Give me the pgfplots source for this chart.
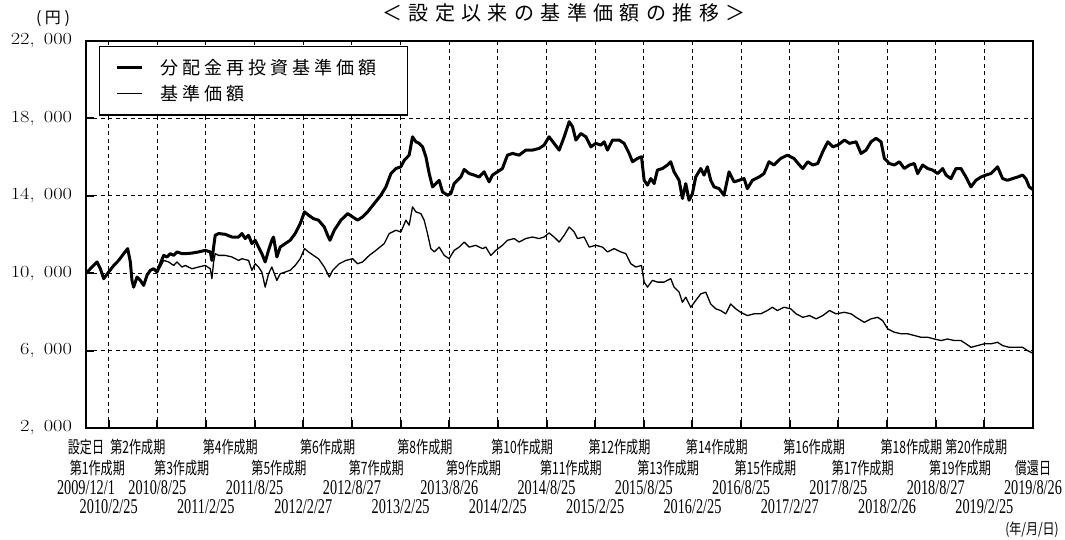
\documentclass[border=0pt]{standalone}
\usepackage{pgfplots}
\pgfplotsset{compat=1.18}
\usepackage{graphicx}
\usepackage{fontspec}
\newfontfamily\cjk{Noto Sans CJK JP}
\newfontfamily\cjkt[LetterSpace=32]{Noto Sans CJK JP}
\newfontfamily\cjkl[LetterSpace=22]{Noto Sans CJK JP}
\newfontfamily\dtf{Liberation Serif}
\newcommand\lab[2]{\makebox[0pt]{\raisebox{-#1}{#2}}}
\newcommand\dt[1]{\scalebox{0.68}[1]{\dtf\fontsize{21bp}{21bp}\selectfont #1}}
\newcommand\pj[1]{\scalebox{0.71}[1]{\cjk\fontsize{17bp}{17bp}\selectfont #1}}
\newcommand\rA[1]{\lab{25bp}{\pj{#1}}}
\newcommand\rB[1]{\lab{46bp}{\pj{#1}}}
\newcommand\rC[1]{\lab{66bp}{\dt{#1}}}
\newcommand\rD[1]{\lab{85bp}{\dt{#1}}}
\newcommand\yl[1]{\scalebox{1.2}[1]{\fontsize{17bp}{17bp}\selectfont #1}}
\begin{document}
\begin{tikzpicture}
\useasboundingbox (-86bp,-112bp) rectangle (979bp,428bp);
\begin{axis}[
  scale only axis, width=947bp, height=387bp,
  xmin=0, xmax=116.8, ymin=2000, ymax=22000,
  scaled y ticks=false, scaled x ticks=false,
  axis line style={line width=2.5bp},
  xtick={0,2.8,8.8,14.77,20.8,26.8,32.8,38.8,44.8,50.8,56.8,62.8,68.8,74.8,80.8,86.8,92.8,98.8,104.8,110.8,116.8},
  xticklabels={\rA{設定日}\rC{2009/12/1},\rD{2010/2/25},\rC{2010/8/25},\rD{2011/2/25},\rC{2011/8/25},\rD{2012/2/27},\rC{2012/8/27},\rD{2013/2/25},\rC{2013/8/26},\rD{2014/2/25},\rC{2014/8/25},\rD{2015/2/25},\rC{2015/8/25},\rD{2016/2/25},\rC{2016/8/25},\rD{2017/2/27},\rC{2017/8/25},\rD{2018/2/26},\rC{2018/8/27},\rD{2019/2/25},\rB{償還日}\rC{2019/8/26}},
  extra x ticks={1.4,6.4,11.8,17.8,23.8,29.8,35.8,41.8,47.8,53.8,59.8,65.8,71.8,77.8,83.8,89.8,95.8,101.8,107.8,109.8},
  extra x tick labels={\rB{第1作成期},\rA{第2作成期},\rB{第3作成期},\rA{第4作成期},\rB{第5作成期},\rA{第6作成期},\rB{第7作成期},\rA{第8作成期},\rB{第9作成期},\rA{第10作成期},\rB{第11作成期},\rA{第12作成期},\rB{第13作成期},\rA{第14作成期},\rB{第15作成期},\rA{第16作成期},\rB{第17作成期},\rA{第18作成期},\rB{第19作成期},\rA{第20作成期}},
  extra x tick style={grid=none, major tick length=0pt},
  xticklabel style={anchor=base, inner sep=0pt},
  ytick={2000,6000,10000,14000,18000,22000},
  yticklabels={{\yl{2,\hspace{.45em}000}},{\yl{6,\hspace{.45em}000}},{\yl{10,\hspace{.45em}000}},{\yl{14,\hspace{.45em}000}},{\yl{18,\hspace{.45em}000}},{\yl{22,\hspace{.45em}000}}},
  yticklabel style={xshift=-10.5bp},
  tick align=inside, xtick pos=left, ytick pos=left,
  major tick length=8bp,
  every tick/.style={black, line width=2bp},
  grid=major,
  major grid style={black, line width=1.1bp, dash pattern=on 4bp off 3.5bp},
  legend style={at={(axis description cs:0.0137,0.987)}, anchor=north west, draw=black, line width=1.2bp, fill=white,
    font=\cjkl\fontsize{18bp}{21bp}\selectfont, inner xsep=16bp, inner ysep=13bp, row sep=9bp,
    nodes={inner sep=0pt},
    /tikz/every odd column/.append style={column sep=17bp},
    /tikz/every even column/.append style={text width=231bp, align=left}},
  legend cell align=left,
  legend image code/.code={\draw[#1] (0bp,0bp) -- (25bp,0bp);},
]
\addplot[black, line width=3bp, line join=round] coordinates {
(0,10000)(0.75,10320)(1.36,10580)(1.77,10230)(2.18,9715)(2.8,10060)(3.42,10400)(4.03,10660)(4.65,11010)(5.14,11270)(5.47,10580)(5.67,9630)(5.88,9280)(6.29,9800)(6.70,9630)(7.11,9370)(7.52,9890)(7.93,10150)(8.34,10230)(8.76,10060)(9.17,10490)(9.58,10920)(9.99,10840)(10.40,11010)(10.81,10920)(11.22,11100)(11.84,11010)(12.25,11010)(13.07,11040)(13.89,11100)(14.71,11180)(15.33,11100)(15.53,10660)(15.74,11350)(15.94,11960)(16.35,12050)(17.17,12010)(17.99,11870)(18.82,11870)(19.23,12050)(19.64,11790)(20.05,11960)(20.46,11530)(20.87,11700)(21.28,11350)(21.69,11010)(22.10,10580)(22.51,11180)(22.92,11700)(23.13,11870)(23.54,10840)(23.95,11350)(24.57,11530)(25.18,11700)(25.80,12050)(26.42,12560)(26.95,13170)(27.44,13000)(28.06,12820)(28.67,12740)(29.39,12390)(29.80,11960)(30.09,11700)(30.62,12220)(31.44,12740)(32.27,13080)(32.88,12910)(33.50,12740)(34.11,12910)(34.73,13170)(35.55,13600)(36.37,14030)(36.99,14460)(37.61,15150)(38.22,15410)(38.84,15500)(39.25,15840)(39.86,16100)(40.27,17050)(40.69,16790)(41.10,16710)(41.51,16530)(41.92,16020)(42.33,15150)(42.74,14460)(43.15,14630)(43.56,14800)(43.97,14200)(44.59,14030)(45.00,14110)(45.41,14630)(45.82,14800)(46.23,14970)(46.64,15360)(47.26,15150)(47.87,15070)(48.49,14970)(49.10,15240)(49.72,14720)(50.13,15070)(50.75,15240)(51.36,15410)(51.98,16100)(52.60,16190)(53.42,16100)(54.24,16360)(55.06,16360)(55.88,16450)(56.50,16620)(57.11,17050)(57.73,16710)(58.36,16360)(58.98,17050)(59.60,17830)(60.01,17570)(60.42,16880)(61.03,17220)(61.65,17050)(62.27,16530)(62.88,16710)(63.50,16620)(63.91,16790)(64.32,16360)(64.94,16880)(65.76,16880)(66.37,16710)(66.99,16190)(67.40,15760)(68.02,15930)(68.51,16020)(68.84,14800)(69.25,14550)(69.66,14890)(70.07,14630)(70.48,15330)(71.10,15410)(71.71,15590)(72.12,15760)(72.53,15240)(73.15,14800)(73.56,13860)(73.97,14630)(74.38,13770)(74.79,14110)(75.20,14970)(75.82,15410)(76.23,15070)(76.64,15500)(77.05,14800)(77.46,14460)(78.08,14370)(78.69,14030)(79.31,15240)(79.93,14720)(80.54,14800)(81.16,14890)(81.57,14370)(82.19,14800)(83.01,14970)(83.62,15150)(84.24,15760)(84.85,15590)(85.68,15930)(86.50,16100)(87.32,15930)(87.99,15590)(88.41,15410)(89.02,15760)(89.64,15590)(90.25,15670)(90.87,16280)(91.49,16790)(92.10,16530)(92.72,16620)(93.54,16880)(94.16,16710)(94.98,16790)(95.59,16190)(96.21,16360)(96.82,16790)(97.44,16970)(98.06,16790)(98.47,15930)(99.08,15670)(99.70,15590)(100.32,15760)(100.93,15410)(101.55,15590)(102.16,15670)(102.57,15150)(103.19,15590)(103.81,15410)(104.42,15330)(105.04,15150)(105.66,15410)(106.07,15070)(106.68,14890)(107.30,15410)(107.91,15410)(108.53,14970)(109.15,14460)(109.76,14800)(110.38,14970)(110.99,15070)(111.61,15150)(112.43,15500)(113.05,14890)(113.66,14800)(114.28,14890)(114.90,14970)(115.51,15070)(115.92,14890)(116.34,14460)(116.8,14320)
};
\addplot[black, line width=1.3bp, line join=round] coordinates {
(0,10000)(0.75,10320)(1.36,10580)(1.77,10230)(2.18,9715)(2.8,10060)(3.42,10400)(4.03,10660)(4.65,11010)(5.14,11270)(5.47,10580)(5.67,9630)(5.88,9280)(6.29,9800)(6.70,9630)(7.11,9370)(7.52,9890)(7.93,10150)(8.34,10230)(8.76,10060)(9.17,10320)(9.58,10660)(10.19,10580)(10.81,10400)(11.22,10580)(11.84,10320)(12.25,10400)(13.07,10230)(13.89,10320)(14.71,10400)(15.33,10230)(15.53,9720)(15.74,10580)(15.94,11010)(16.35,10920)(17.17,10920)(17.99,10840)(18.82,10660)(19.23,10750)(20.05,10660)(20.46,10150)(20.87,10490)(21.28,10320)(21.69,10060)(22.10,9280)(22.51,9970)(22.92,10320)(23.54,9630)(23.95,9970)(24.57,10060)(25.18,10150)(25.80,10400)(26.42,10750)(26.95,11270)(27.44,11100)(28.06,10920)(28.67,10750)(29.39,10320)(30.01,9800)(30.42,10150)(31.24,10490)(32.06,10660)(32.88,10750)(33.50,10490)(34.11,10580)(34.94,10920)(35.76,11180)(36.78,11530)(37.40,12050)(38.22,12220)(38.84,12130)(39.45,12740)(39.86,12480)(40.27,13430)(40.69,13170)(41.30,13080)(41.71,12740)(42.12,12050)(42.53,11270)(42.94,11100)(43.56,11350)(44.18,10920)(44.79,10750)(45.41,11180)(46.02,11350)(46.64,11610)(47.26,11350)(48.08,11440)(48.90,11270)(49.31,11350)(49.93,10920)(50.54,11180)(51.36,11440)(51.98,11700)(52.80,11790)(53.42,11610)(54.24,11790)(55.06,11870)(55.88,11790)(56.50,11870)(57.11,12080)(57.73,11870)(58.36,11610)(58.98,11960)(59.60,12390)(60.21,12130)(60.62,11790)(61.44,11870)(62.06,11350)(62.88,11440)(63.70,11350)(64.32,11100)(65.14,11270)(65.96,11100)(66.58,11010)(67.19,10490)(67.81,10320)(68.51,10400)(68.84,9540)(69.25,9280)(69.86,9630)(70.48,9540)(71.30,9540)(72.12,9720)(72.53,9280)(73.15,9020)(73.56,8500)(73.97,8760)(74.59,8240)(75.20,8590)(75.82,8930)(76.44,9020)(77.05,8410)(77.67,8160)(78.28,8070)(78.90,7900)(79.52,8410)(80.13,8160)(80.75,7980)(81.57,7810)(82.39,7900)(83.21,7900)(84.03,8070)(84.65,8240)(85.27,8070)(86.09,8240)(86.91,8160)(87.58,7900)(88.41,7720)(89.23,7810)(90.05,7640)(90.87,7810)(91.69,8070)(92.51,7900)(93.54,7980)(94.36,7900)(94.98,7720)(96.00,7460)(96.82,7640)(97.65,7720)(98.26,7550)(98.88,7120)(99.70,6950)(100.52,6870)(101.34,6870)(102.16,6780)(102.99,6690)(103.81,6690)(104.63,6600)(105.45,6520)(106.27,6600)(107.09,6520)(107.91,6520)(108.53,6350)(109.15,6170)(109.97,6260)(110.79,6350)(111.61,6350)(112.43,6430)(113.05,6260)(113.87,6170)(114.69,6170)(115.51,6170)(116.13,6000)(116.8,5860)
};
\legend{分配金再投資基準価額,基準価額}
\end{axis}
\node at (478bp,415.5bp) {\cjkt\fontsize{20bp}{20bp}\selectfont ＜設定以来の基準価額の推移＞};
\node at (-33bp,409bp) {\cjkl\fontsize{16bp}{16bp}\selectfont (円)};
\node[anchor=base] at (946bp,-106bp) {\scalebox{0.8}[1]{\cjk\fontsize{15bp}{15bp}\selectfont (年/月/日)}};
\end{tikzpicture}
\end{document}
